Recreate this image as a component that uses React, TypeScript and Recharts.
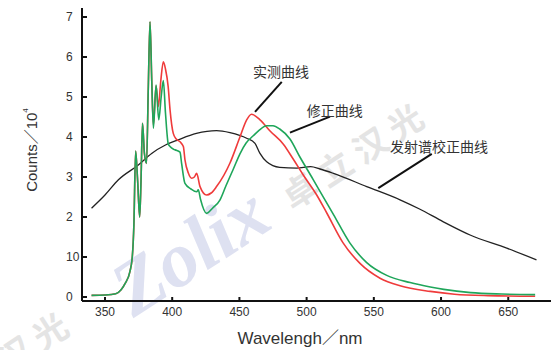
import { LineChart, Line, XAxis, YAxis, ReferenceLine, ReferenceDot } from "recharts";

// Wavelength (nm) ticks and count (×10^4) ticks
const xTicks = [350, 400, 450, 500, 550, 600, 650];
const yTicks = [0, 1, 2, 3, 4, 5, 6, 7];
const yTickLabels = ["0", "10", "2", "3", "4", "5", "6", "7"];

// 修正曲线 (corrected spectrum, green)
const correctedNm = [
  340, 350, 358, 362, 365, 368.5, 370.3, 371.5, 372.8, 374.3, 375.8, 376.8, 377.9, 379.3, 380.9,
  382.2, 383.5, 384.8, 386, 388, 390, 391.8, 393.4, 395, 397, 398.4, 402, 405.8, 407, 409.5, 414,
  418.2, 419.4, 421, 425.6, 430, 435.6, 440, 445.5, 450.4, 455, 460.3, 465, 470.3, 475, 480, 487.6,
  495, 505, 512, 520, 532, 544.7, 559.6, 577, 592, 602, 622, 645, 670,
];
const correctedCounts = [
  0.04, 0.05, 0.08, 0.18, 0.34, 0.63, 1.0, 1.8, 3.65, 2.9, 2.0, 2.9, 4.34, 3.6, 3.34,
  5.2, 6.88, 5.4, 4.22, 5.3, 4.43, 5.0, 5.41, 4.6, 3.84, 3.76, 3.68, 3.62, 3.34, 2.84, 2.7,
  2.63, 2.68, 2.45, 2.09, 2.22, 2.43, 2.78, 3.2, 3.58, 3.85, 4.03, 4.18, 4.28, 4.28, 4.2, 3.95,
  3.5, 2.93, 2.52, 2.06, 1.36, 0.86, 0.54, 0.36, 0.25, 0.19, 0.11, 0.075, 0.06,
];

// 实测曲线 (measured spectrum, red)
const measuredNm = [
  340, 350, 358, 362, 365, 368.5, 370.3, 371.5, 372.8, 374.3, 375.8, 376.8, 377.9, 379.3, 380.9,
  382.2, 383.5, 384.8, 386, 388, 389.7, 391.5, 393.4, 395, 397, 398.4, 400.8, 403, 405.8, 408.3,
  409.5, 412, 414.5, 416.5, 418.2, 420.7, 425.6, 429, 433, 443, 450.4, 455.4, 459, 465.3, 472.8,
  482.7, 490, 497.5, 507.5, 515, 527, 539.7, 554.6, 569.5, 592, 610, 635, 670,
];
const measuredCounts = [
  0.04, 0.05, 0.08, 0.18, 0.34, 0.63, 1.0, 1.8, 3.65, 2.9, 2.0, 2.9, 4.34, 3.6, 3.34,
  5.2, 6.88, 5.4, 4.3, 5.28, 4.76, 5.4, 5.88, 5.7, 5.26, 4.68, 4.09, 3.95, 3.88, 3.76,
  3.43, 3.1, 2.97, 3.0, 3.09, 2.76, 2.55, 2.6, 2.76, 3.35, 4.0, 4.43, 4.57, 4.43, 4.15,
  3.82, 3.45, 3.05, 2.55, 2.1, 1.36, 0.84, 0.47, 0.28, 0.14, 0.07, 0.035, 0.02,
];

// 发射谱校正曲线 (emission correction curve, black)
const correctionNm = [
  340, 350, 360, 374.8, 384.7, 395, 404.5, 418, 433, 443, 455.4, 461.6, 465.3, 470.3, 480,
  492.6, 503, 510, 520, 544.7, 569.5, 584, 601.7, 621.6, 648.9, 671,
];
const correctionCounts = [
  2.22, 2.55, 2.93, 3.3, 3.59, 3.8, 3.93, 4.09, 4.16, 4.11, 3.97, 3.84, 3.59, 3.38, 3.24,
  3.22, 3.26, 3.2, 3.09, 2.76, 2.43, 2.2, 1.88, 1.55, 1.22, 0.93,
];

const toPoints = (xs: number[], ys: number[]) => xs.map((wl, i) => ({ wl, v: ys[i] }));
const correctedData = toPoints(correctedNm, correctedCounts);
const measuredData = toPoints(measuredNm, measuredCounts);
const correctionData = toPoints(correctionNm, correctionCounts);

// annotation labels and their leader lines (data coordinates)
const notes = [
  { text: "实测曲线", at: [481, 5.63], from: [481.5, 5.38], to: [461.6, 4.63] },
  { text: "修正曲线", at: [521, 4.65], from: [517.4, 4.51], to: [487.6, 4.11] },
  { text: "发射谱校正曲线", at: [598.5, 3.75], from: [593.1, 3.58], to: [553.3, 2.72] },
];

const FONT = "'Liberation Sans', Arial, 'Noto Sans CJK SC', sans-serif";

const YTick = (p: any) => (
  <text x={p.x - 6} y={p.y} textAnchor="start" dominantBaseline="central" fontSize={12} fill="#333" fontFamily={FONT}>
    {yTickLabels[yTicks.indexOf(p.payload.value)]}
  </text>
);

function Watermark() {
  return (
    <svg width={551} height={350} style={{ position: "absolute", left: 0, top: 0 }}>
      <text
        x={190}
        y={250}
        textAnchor="middle"
        dominantBaseline="central"
        transform="rotate(-33 190 250)"
        fontSize={78}
        fontWeight="bold"
        fontStyle="italic"
        fontFamily="'Liberation Serif', serif"
        fill="#dee1f1"
      >
        Zolix
      </text>
      <text
        x={355}
        y={153}
        textAnchor="middle"
        dominantBaseline="central"
        transform="rotate(-33 355 153)"
        fontSize={34}
        fontWeight="bold"
        letterSpacing={8}
        fontFamily="'Noto Sans CJK SC', sans-serif"
        fill="#e4e4e4"
      >
        卓立汉光
      </text>
      <text
        x={70}
        y={316}
        textAnchor="end"
        dominantBaseline="central"
        transform="rotate(-33 70 316)"
        fontSize={34}
        fontWeight="bold"
        letterSpacing={8}
        fontFamily="'Noto Sans CJK SC', sans-serif"
        fill="#e4e4e4"
      >
        卓立汉光
      </text>
    </svg>
  );
}

export default function App() {
  return (
    <div style={{ position: "absolute", left: 0, top: 0, width: 551, height: 350, background: "#fff" }}>
      <Watermark />
      <div style={{ position: "absolute", left: 0, top: 0 }}>
        <LineChart width={551} height={350} margin={{ top: 8, right: 0, bottom: 0, left: 0 }}>
          <XAxis
            dataKey="wl"
            type="number"
            domain={[332.9, 681.8]}
            ticks={xTicks}
            allowDataOverflow
            height={49}
            stroke="#111"
            strokeWidth={2}
            tickSize={-4}
            tickMargin={10}
            tick={{ fontSize: 12, fill: "#333", fontFamily: FONT }}
            label={{
              content: () => (
                <text x={300} y={338} textAnchor="middle" dominantBaseline="central" fontSize={17} fill="#333" fontFamily={FONT}>
                  Wavelengh／nm
                </text>
              ),
            }}
          />
          <YAxis
            type="number"
            domain={[-0.1, 7.225]}
            ticks={yTicks}
            allowDataOverflow
            width={82}
            stroke="#111"
            strokeWidth={2}
            tickSize={-5}
            tickMargin={15}
            tick={YTick}
            label={{
              content: () => (
                <text
                  x={31}
                  y={150}
                  textAnchor="middle"
                  dominantBaseline="central"
                  transform="rotate(-90 31 150)"
                  fontSize={15}
                  fill="#333"
                  fontFamily={FONT}
                >
                  Counts／10<tspan dy={-6} fontSize={8}>4</tspan>
                </text>
              ),
            }}
          />
          <Line data={correctionData} dataKey="v" type="monotone" stroke="#222" strokeWidth={1.3} dot={false} isAnimationActive={false} />
          <Line data={measuredData} dataKey="v" type="monotone" stroke="#ef3b3b" strokeWidth={1.6} dot={false} isAnimationActive={false} />
          <Line data={correctedData} dataKey="v" type="monotone" stroke="#1fa65a" strokeWidth={1.6} dot={false} isAnimationActive={false} />
          {notes.map((n) => (
            <ReferenceLine
              key={n.text + "-line"}
              segment={[
                { x: n.from[0], y: n.from[1] },
                { x: n.to[0], y: n.to[1] },
              ]}
              stroke="#111"
              strokeWidth={2}
              ifOverflow="visible"
            />
          ))}
          {notes.map((n) => (
            <ReferenceDot
              key={n.text}
              x={n.at[0]}
              y={n.at[1]}
              r={0}
              ifOverflow="visible"
              shape={(p: any) => (
                <text x={p.cx} y={p.cy} textAnchor="middle" dominantBaseline="central" fontSize={14} fill="#333" fontFamily={FONT}>
                  {n.text}
                </text>
              )}
            />
          ))}
        </LineChart>
      </div>
    </div>
  );
}
